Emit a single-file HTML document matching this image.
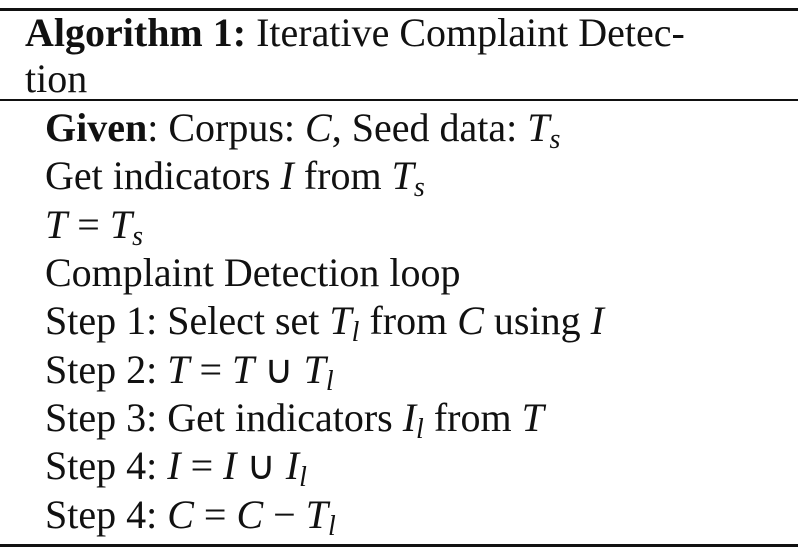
<!DOCTYPE html>
<html><head><meta charset="utf-8"><style>
html,body{margin:0;padding:0;background:#fff;}
svg{display:block;}
text{font-family:"Liberation Serif",serif;font-size:40px;fill:#111;}
.b{font-weight:bold;}
.i{font-style:italic;}
</style></head><body>
<svg width="798" height="554" viewBox="0 0 798 554">
<rect x="0" y="8" width="798" height="3" fill="#111"/>
<text x="25" y="46"><tspan class="b">Algorithm 1:</tspan> Iterative  Complaint  Detec-</text>
<text x="25" y="92">tion</text>
<rect x="0" y="99" width="798" height="2" fill="#111"/>
<text x="45" y="141"><tspan class="b">Given</tspan>: Corpus: <tspan class="i">C</tspan>, Seed data: <tspan class="i">T</tspan><tspan class="i" font-size="28" dy="7">s</tspan></text>
<text x="45" y="189">Get indicators <tspan class="i">I</tspan> from <tspan class="i">T</tspan><tspan class="i" font-size="28" dy="7">s</tspan></text>
<text x="45" y="238"><tspan class="i">T</tspan> = <tspan class="i">T</tspan><tspan class="i" font-size="28" dy="7">s</tspan></text>
<text x="45" y="286">Complaint Detection loop</text>
<text x="45" y="334">Step 1: Select set <tspan class="i">T</tspan><tspan class="i" font-size="28" dy="7">l</tspan><tspan dy="-7"> from </tspan><tspan class="i">C</tspan> using <tspan class="i">I</tspan></text>
<text x="45" y="383">Step 2: <tspan class="i">T</tspan> = <tspan class="i">T</tspan> ∪ <tspan class="i">T</tspan><tspan class="i" font-size="28" dy="7">l</tspan></text>
<text x="45" y="431">Step 3: Get indicators <tspan class="i">I</tspan><tspan class="i" font-size="28" dy="7">l</tspan><tspan dy="-7"> from </tspan><tspan class="i">T</tspan></text>
<text x="45" y="479">Step 4: <tspan class="i">I</tspan> = <tspan class="i">I</tspan> ∪ <tspan class="i">I</tspan><tspan class="i" font-size="28" dy="7">l</tspan></text>
<text x="45" y="528">Step 4: <tspan class="i">C</tspan> = <tspan class="i">C</tspan> − <tspan class="i">T</tspan><tspan class="i" font-size="28" dy="7">l</tspan></text>
<rect x="0" y="544" width="798" height="3" fill="#111"/>
</svg>
</body></html>
